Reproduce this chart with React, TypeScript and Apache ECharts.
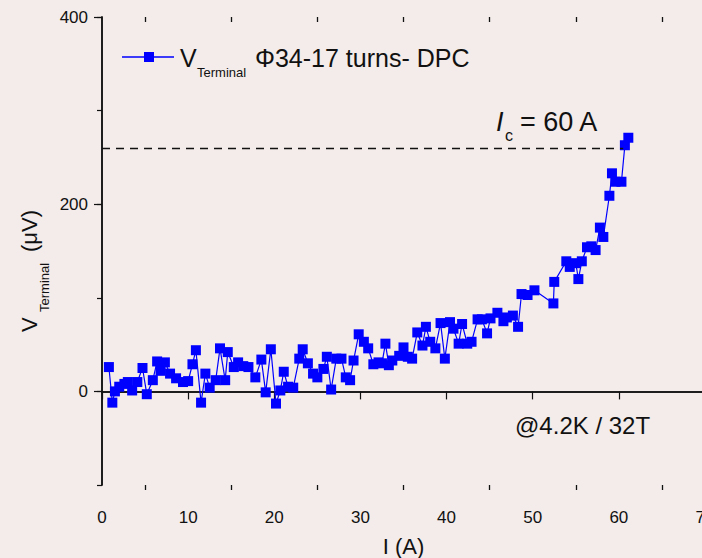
import React, { useEffect, useRef } from "react";
import * as echarts from "echarts";

// Terminal voltage vs. current, Φ34-17 turns double-pancake coil
const current: number[] = [
  0.8, 1.2, 1.5, 2.0, 2.6, 3.0, 3.5, 4.1, 4.7, 5.2, 5.9, 6.4, 6.8, 7.3, 7.9, 8.6, 9.4, 10.0, 10.5, 10.9,
  11.5, 12.0, 12.5, 13.2, 13.7, 14.3, 14.6, 15.3, 15.8, 16.4, 17.0, 17.8, 18.5, 19.0, 19.6, 20.2, 20.7,
  21.1, 21.6, 22.2, 22.9, 23.3, 23.9, 24.5, 25.0, 25.7, 26.1, 26.6, 27.2, 27.8, 28.3, 28.8, 29.2, 29.8,
  30.4, 30.9, 31.5, 32.1, 32.5, 32.9, 33.3, 33.7, 34.5, 35.0, 35.5, 36.0, 36.6, 37.2, 37.6, 38.1, 38.7,
  39.3, 39.8, 40.4, 40.8, 41.4, 41.8, 42.4, 42.9, 43.6, 44.1, 44.7, 45.1, 45.9, 46.6, 47.0, 47.7, 48.3,
  48.7, 49.4, 50.2, 52.4, 52.5, 53.9, 54.3, 55.0, 55.3, 55.7, 56.3, 56.8, 57.3, 57.8, 58.2, 58.9, 59.2,
  59.6, 60.3, 60.7, 61.1,
];
const voltage: number[] = [
  26, -12, 0, 5, 8, 10, 1, 10, 25, -3, 12, 32, 22, 31, 19, 14, 10, 11, 29, 44,
  -12, 19, 4, 12, 46, 12, 42, 26, 31, 27, 26, 15, 34, -1, 45, -13, 1,
  21, 5, 4, 35, 45, 30, 19, 15, 24, 37, 2, 35, 35, 15, 12, 33, 61,
  53, 46, 29, 31, 30, 51, 28, 33, 38, 47, 37, 35, 63, 49, 69, 53, 46,
  73, 35, 74, 67, 51, 72, 51, 53, 77, 77, 62, 78, 84, 75, 79, 81, 69,
  104, 103, 108, 94, 117, 139, 133, 137, 120, 139, 154, 155, 151, 175, 165, 209, 233,
  224, 224, 263, 271,
];

// Critical-current criterion line
const criticalVoltage = 260;
const criticalLineEnd = 60.5;

const xTicks = [0, 10, 20, 30, 40, 50, 60, 70];
// half-decade tick positions for the minor ticks (0, 5, 10 ... 70)
const xHalfTicks = ["0", "5", "10", "15", "20", "25", "30", "35", "40", "45", "50", "55", "60", "65", "70"];
const yMajorTicks = [0, 200, 400];

const BG = "#f3ecea";
const INK = "#111111";
const BLUE = "#0000ff";
const FONT = "'Liberation Sans', Arial, sans-serif";

export default function App() {
  const ref = useRef<HTMLDivElement>(null);

  useEffect(() => {
    document.body.style.margin = "0";
    document.body.style.background = BG;
    const chart = echarts.init(ref.current!, null, { renderer: "svg" });

    const points = current.map((c, i) => [c, voltage[i]]);
    const axisLine = { show: true, lineStyle: { color: INK, width: 1.5 } };
    const oddOnly = (i: number) => i % 2 === 1;

    chart.setOption({
      animation: false,
      backgroundColor: BG,
      textStyle: { fontFamily: FONT },
      grid: { left: 102, top: 17, width: 603, height: 468, containLabel: false, outerBoundsMode: "none" },
      xAxis: [
        {
          type: "value",
          min: 0,
          max: 70,
          interval: 10,
          position: "bottom",
          name: "I (A)",
          nameLocation: "middle",
          nameGap: 50,
          nameTextStyle: { color: INK, fontSize: 22, fontFamily: FONT },
          axisLine,
          axisTick: { show: true, length: 8, lineStyle: { color: INK, width: 1.2 } },
          axisLabel: { color: INK, fontSize: 17, margin: 24, fontFamily: FONT, customValues: xTicks },
          splitLine: { show: false },
        },
        {
          // top frame line
          type: "value",
          min: 0,
          max: 70,
          interval: 10,
          position: "top",
          axisLine,
          axisTick: { show: false },
          axisLabel: { show: false },
          splitLine: { show: false },
        },
        {
          // bottom minor ticks between the labelled decades
          type: "category",
          data: xHalfTicks,
          boundaryGap: false,
          position: "bottom",
          offset: 0,
          axisLine: { show: false },
          axisTick: { show: true, length: 5, interval: oddOnly, lineStyle: { color: INK, width: 1.3 } },
          axisLabel: { show: false },
          splitLine: { show: false },
        },
        {
          // top frame ticks, hanging down from the frame line
          type: "category",
          data: xHalfTicks,
          boundaryGap: false,
          position: "top",
          offset: -5,
          axisLine: { show: false },
          axisTick: { show: true, length: 5, interval: oddOnly, lineStyle: { color: INK, width: 1.3 } },
          axisLabel: { show: false },
          splitLine: { show: false },
        },
      ],
      yAxis: [
        {
          type: "value",
          min: -100,
          max: 400,
          interval: 100,
          axisLine,
          axisTick: { show: true, length: 5, lineStyle: { color: INK, width: 1.2 } },
          axisLabel: { show: false },
          splitLine: { show: false },
        },
        {
          type: "value",
          min: -100,
          max: 400,
          interval: 100,
          position: "left",
          axisLine,
          axisTick: { show: true, length: 8, customValues: yMajorTicks, lineStyle: { color: INK, width: 1.2 } },
          axisLabel: { color: INK, fontSize: 17, margin: 14, fontFamily: FONT, customValues: yMajorTicks },
          splitLine: { show: false },
        },
      ],
      series: [
        {
          name: "V Terminal Φ34-17 turns- DPC",
          type: "line",
          xAxisIndex: 0,
          yAxisIndex: 0,
          data: points,
          symbol: "rect",
          symbolSize: 10,
          showSymbol: true,
          itemStyle: { color: BLUE },
          lineStyle: { color: BLUE, width: 1.2 },
          markLine: {
            silent: true,
            symbol: "none",
            label: { show: false },
            lineStyle: { color: INK, type: [8, 6], width: 1.3 },
            data: [[{ coord: [0, criticalVoltage] }, { coord: [criticalLineEnd, criticalVoltage] }]],
          },
        },
      ],
      graphic: [
        // legend sample
        { type: "line", shape: { x1: 122, y1: 57, x2: 174, y2: 57 }, style: { stroke: BLUE, lineWidth: 1.5 } },
        { type: "rect", shape: { x: 144, y: 52, width: 10, height: 10 }, style: { fill: BLUE } },
        { type: "text", x: 180, y: 58, style: { text: "V", fontSize: 25, fontFamily: FONT, fill: INK, verticalAlign: "middle" } },
        { type: "text", x: 197, y: 72, style: { text: "Terminal", fontSize: 13, fontFamily: FONT, fill: INK, verticalAlign: "middle" } },
        { type: "text", x: 255, y: 58, style: { text: "Φ34-17 turns- DPC", fontSize: 25, fontFamily: FONT, fill: INK, verticalAlign: "middle" } },
        // critical current annotation
        { type: "text", x: 496, y: 122, style: { text: "I", fontSize: 27, fontStyle: "italic", fontFamily: FONT, fill: INK, verticalAlign: "middle" } },
        { type: "text", x: 505, y: 135, style: { text: "c", fontSize: 16, fontFamily: FONT, fill: INK, verticalAlign: "middle" } },
        { type: "text", x: 520, y: 122, style: { text: "= 60 A", fontSize: 27, fontFamily: FONT, fill: INK, verticalAlign: "middle" } },
        // test conditions
        { type: "text", x: 515, y: 425, style: { text: "@4.2K / 32T", fontSize: 24, fontFamily: FONT, fill: INK, verticalAlign: "middle" } },
        // y-axis title, rotated
        {
          type: "group",
          x: 37,
          y: 332,
          rotation: Math.PI / 2,
          children: [
            { type: "text", x: 0, y: -8, style: { text: "V", fontSize: 22, fontFamily: FONT, fill: INK, verticalAlign: "middle" } },
            { type: "text", x: 20, y: 7, style: { text: "Terminal", fontSize: 13, fontFamily: FONT, fill: INK, verticalAlign: "middle" } },
            { type: "text", x: 80, y: -8, style: { text: "(μV)", fontSize: 22, fontFamily: FONT, fill: INK, verticalAlign: "middle" } },
          ],
        },
      ],
    });

    return () => chart.dispose();
  }, []);

  return (
    <div
      ref={ref}
      style={{ position: "fixed", left: 0, top: 0, width: 702, height: 558, background: BG }}
    />
  );
}
